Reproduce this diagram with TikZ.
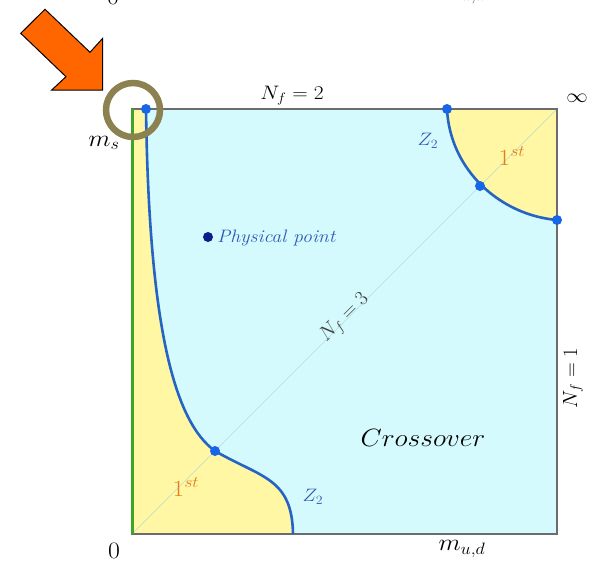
\RequirePackage{fix-cm}
\documentclass[tikz,border=0pt]{standalone}
\definecolor{cyanbg}{HTML}{D5FAFD}
\definecolor{yel}{HTML}{FFF7A3}
\definecolor{curveblue}{HTML}{2563C4}
\definecolor{dotblue}{HTML}{1766E8}
\definecolor{navy}{HTML}{0A1F8A}
\definecolor{labblue}{HTML}{2F5BB5}
\definecolor{orangetxt}{HTML}{E27D1E}
\definecolor{greenline}{HTML}{3FA428}
\definecolor{arroworange}{HTML}{FF6600}
\definecolor{olive}{HTML}{8C8150}
\definecolor{diagc}{HTML}{B8DCDC}
\begin{document}
\begin{tikzpicture}[x=1pt,y=-1pt,
  lbl/.style={font=\fontsize{19.5}{23}\selectfont, inner sep=0pt, xscale=1.1},
  axlbl/.style={font=\fontsize{23.5}{27}\selectfont, inner sep=0pt, xscale=1.1},
  rlbl/.style={font=\fontsize{20.5}{24}\selectfont, inner sep=0pt},
  biglbl/.style={font=\fontsize{25}{29}\selectfont, inner sep=0pt, xscale=1.1},
  firstlbl/.style={font=\fontsize{23}{27}\selectfont, inner sep=0pt, text=orangetxt, xscale=1.1},
  zlbl/.style={font=\fontsize{18}{22}\selectfont, inner sep=0pt, text=labblue, xscale=1.1},
  bdot/.style={circle, fill=dotblue, inner sep=0pt, minimum size=10pt},
  curveline/.style={draw=curveblue, line width=2.6pt},
  frame/.style={draw=gray!85!black, line width=1.3pt}]
\useasboundingbox (0,0) rectangle (600,563);
% square
\coordinate (TL) at (132,109);
\coordinate (TR) at (557,109);
\coordinate (BL) at (132,534);
\coordinate (BR) at (557,534);
\fill[cyanbg] (TL) rectangle (BR);
% yellow regions
\fill[yel] (TL) -- (146,109) .. controls (149,330) and (175,422) .. (215,451)
  .. controls (262,478) and (292,478) .. (293,534) -- (BL) -- cycle;
\fill[yel] (447,109) .. controls (450,170) and (500,215) .. (557,220) -- (TR) -- cycle;
% diagonal
\draw[diagc, line width=0.6pt] (BL) -- (TR);
% frame
\draw[frame] (TL) rectangle (BR);
\draw[greenline, line width=3pt] (TL) -- (BL);
% curves
\draw[curveline] (146,109) .. controls (149,330) and (175,422) .. (215,451)
  .. controls (262,478) and (292,478) .. (293,534);
\draw[curveline] (447,109) .. controls (450,170) and (500,215) .. (557,220);
% dots
\node[bdot] (d1) at (146,109) {};
\node[bdot] (d2) at (447,109) {};
\node[bdot] (d3) at (480,186) {};
\node[bdot] (d4) at (557,220) {};
\node[bdot] (d5) at (215,451) {};
% physical point
\node[circle, fill=navy, inner sep=0pt, minimum size=10pt] (pp) at (208,237) {};
\node[anchor=west, inner sep=0pt, text=labblue, xscale=1.1, font=\fontsize{18}{22}\selectfont\itshape] (ppl) at (217,238) {Physical point};
% labels
\node[axlbl] (z0top) at (113,-3) {$0$};
\node[axlbl] (mudtop) at (462,-5) {$m_{u,d}$};
\node[axlbl] (z0) at (114,551) {$0$};
\node[axlbl] (mud) at (462,549) {$m_{u,d}$};
\node[axlbl] (ms) at (104,143) {$m_s$};
\node[lbl] (nf2) at (292,96) {$N_f=2$};
\node[lbl] (inf) at (577,98) {$\infty$};
\node[rlbl, rotate=90] (nf1) at (573,378) {$N_f=1$};
\node[rlbl, rotate=45, text=black!75] (nf3) at (345,318) {$N_f=3$};
\node[zlbl] (z2a) at (428,141) {$Z_2$};
\node[zlbl] (z2b) at (313,497) {$Z_2$};
\node[firstlbl] (f1) at (512,156) {$1^{st}$};
\node[firstlbl] (f2) at (186,487) {$1^{st}$};
\node[biglbl] (cross) at (423,438) {$Crossover$};
% highlight circle and arrow
\draw[olive, line width=6.5pt] (133,110) circle[radius=27pt];
\draw[black, line width=1pt, fill=arroworange] (20.7,33.3) -- (45,9.3) -- (90,52.3)
  -- (102.7,38.3) -- (102.7,90) -- (51.7,90) -- (66,76.7) -- cycle;
\end{tikzpicture}
\end{document}
